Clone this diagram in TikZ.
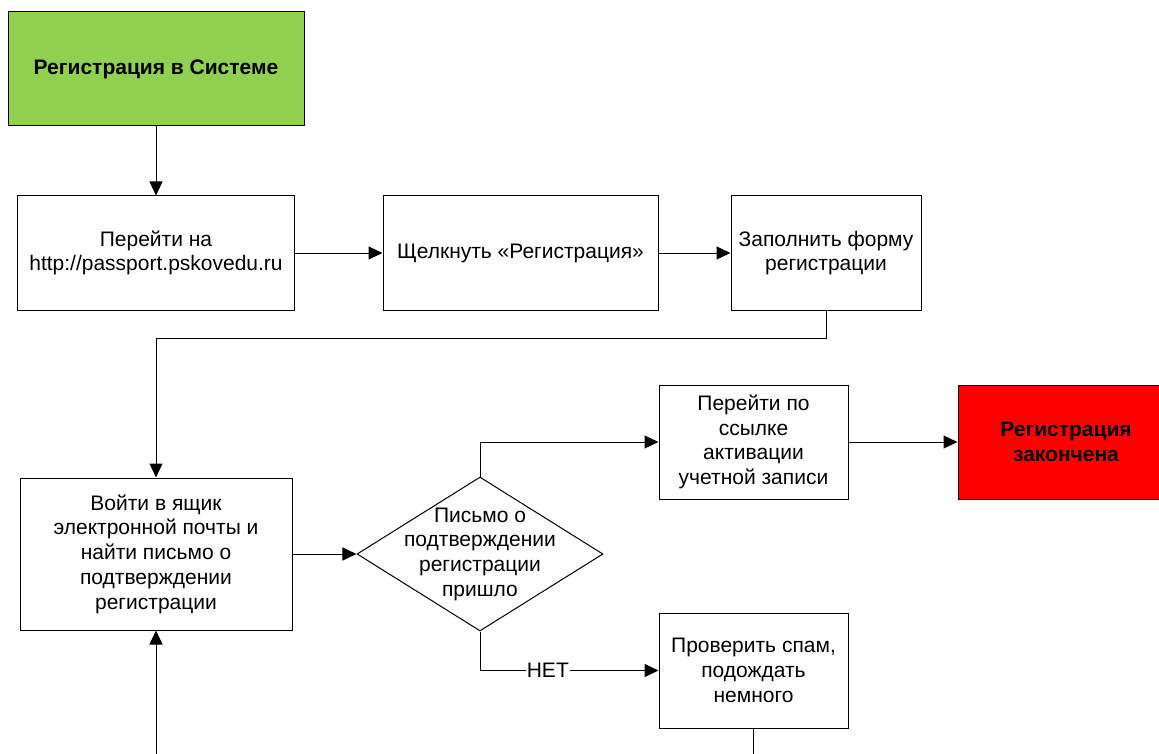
\documentclass[tikz,border=0pt]{standalone}
\usepackage{fontspec}
\setmainfont{Liberation Sans}
\usetikzlibrary{shapes.geometric,arrows.meta}

\definecolor{startgreen}{HTML}{92D050}
\definecolor{endred}{HTML}{FF0000}

\tikzset{
  stepbox/.style={draw, line width=1pt, fill=white, align=center, inner sep=0pt,
    font=\fontsize{21}{24.7}\selectfont},
  termbox/.style={stepbox, font=\fontsize{21}{24.7}\selectfont\bfseries},
  conn/.style={line width=1pt, -{Triangle[length=14pt,width=13pt]}},
}

\begin{document}
\begin{tikzpicture}[x=1pt,y=-1pt]
\useasboundingbox (0,0) rectangle (1159,754);
% top row
\node[termbox, fill=startgreen, minimum width=296, minimum height=114] (start) at (156,69) {Регистрация в Системе};
\node[stepbox, minimum width=277, minimum height=114] (site) at (156,253) {Перейти на\\http://passport.pskovedu.ru};
\node[stepbox, minimum width=275, minimum height=114] (click) at (520.5,253) {Щелкнуть «Регистрация»};
\node[stepbox, minimum width=190, minimum height=114] (form) at (826,253) {Заполнить форму\\регистрации};
% mail and check
\node[stepbox, minimum width=272, minimum height=152] (mail) at (156,554) {Войти в ящик\\электронной почты и\\найти письмо о\\подтверждении\\регистрации};
\node[draw, diamond, line width=1pt, inner sep=0pt, minimum width=246, minimum height=154] (check) at (480,554) {};
\node[align=center, font=\fontsize{21}{24.7}\selectfont] at (check) {Письмо о\\подтверждении\\регистрации\\пришло};
\node[stepbox, minimum width=189, minimum height=114] (link) at (753.5,442) {Перейти по\\ссылке\\активации\\учетной записи};
\node[termbox, fill=endred, minimum width=216, minimum height=114] (done) at (1066,442) {Регистрация\\закончена};
\node[stepbox, minimum width=189, minimum height=115] (spam) at (753.5,670.5) {Проверить спам,\\подождать\\немного};

\draw[conn] (start) -- (site);
\draw[conn] (site) -- (click);
\draw[conn] (click) -- (form);
\draw[conn] (form.south) -- ++(0,28) -| (mail.north);
\draw[conn] (mail) -- (check);
\draw[conn] (check.north) |- (link.west);
\draw[conn] (link) -- (done);
\draw[conn] (check.south) |- node[pos=0.69, fill=white, inner sep=1pt, font=\fontsize{21}{24.7}\selectfont] {НЕТ} (spam.west);
\draw[conn] (spam.south) -- ++(0,60) -| (mail.south);
\end{tikzpicture}
\end{document}
